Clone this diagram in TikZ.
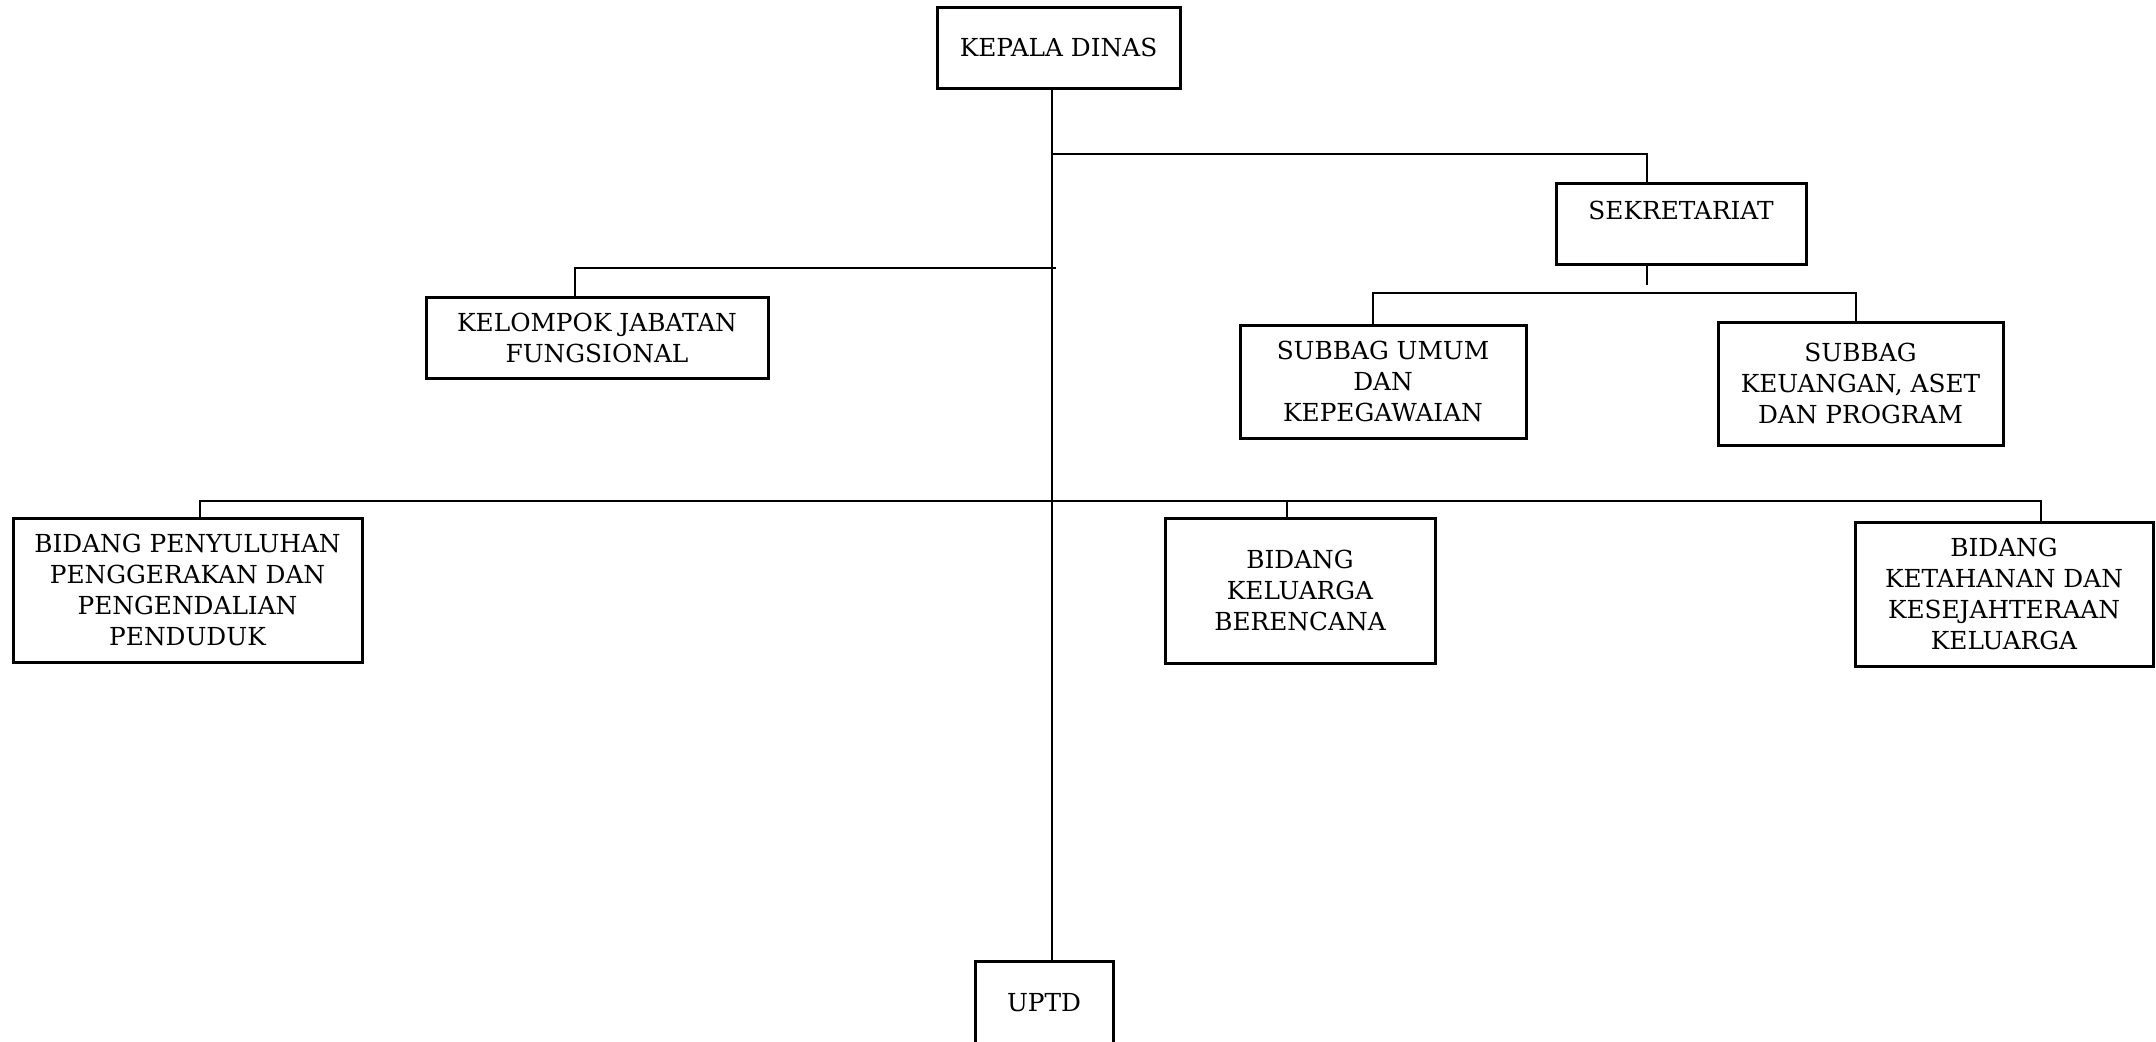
\documentclass[tikz,border=0pt]{standalone}
\usepackage{fontspec}
\setmainfont{DejaVu Serif}
\begin{document}
\begin{tikzpicture}[x=0.5pt,y=-0.5pt,
  unit/.style={draw, line width=1.5pt, align=center, inner sep=0pt,
    font=\fontsize{12.4}{15.5}\selectfont},
  link/.style={line width=0.8pt}]
\useasboundingbox (0,0) rectangle (2156,1041);

% boxes
\node[unit, minimum width=121.5pt, minimum height=40.5pt] (kepala) at (1058.5,47.5) {KEPALA DINAS};
\node[unit, minimum width=125pt, minimum height=40.5pt, text depth=13pt] (sek) at (1681,223.5) {SEKRETARIAT};
\node[unit, minimum width=171pt, minimum height=40.5pt] (kel) at (597,337.5) {KELOMPOK JABATAN\\FUNGSIONAL};
\node[unit, minimum width=143pt, minimum height=56.5pt] (umum) at (1383,381.5) {SUBBAG UMUM\\DAN\\KEPEGAWAIAN};
\node[unit, minimum width=142.5pt, minimum height=61.5pt] (keu) at (1860.5,383.5) {SUBBAG\\KEUANGAN, ASET\\DAN PROGRAM};
\node[unit, minimum width=174.5pt, minimum height=72pt] (pen) at (187.5,590) {BIDANG PENYULUHAN\\PENGGERAKAN DAN\\PENGENDALIAN\\PENDUDUK};
\node[unit, minimum width=135pt, minimum height=72.5pt] (kb) at (1300,590.5) {BIDANG\\KELUARGA\\BERENCANA};
\node[unit, minimum width=149pt, minimum height=72pt] (ket) at (2004,594) {BIDANG\\KETAHANAN DAN\\KESEJAHTERAAN\\KELUARGA};
\node[unit, minimum width=69pt, minimum height=41.5pt] (uptd) at (1044,1002.5) {UPTD};

% attachment points on the boxes
\path (kepala.south) ++(-6.5,0) coordinate (trunkTop);
\path (uptd.north) ++(8,0) coordinate (trunkBot);
\path (sek.north) ++(-34,0) coordinate (sekIn);
\path (sek.south) ++(-34,0) coordinate (sekOut);
\path (umum.north) ++(-10,0) coordinate (umumIn);
\path (keu.north) ++(-4.5,0) coordinate (keuIn);
\path (kel.north) ++(-22,0) coordinate (kelIn);
\path (pen.north) ++(12.5,0) coordinate (penIn);
\path (kb.north) ++(-13,0) coordinate (kbIn);
\path (ket.north) ++(37,0) coordinate (ketIn);

% junctions
\coordinate (jSek) at (1052,154);
\coordinate (jSub) at (1647,293);
\coordinate (sekStub) at (1647,285);
\coordinate (jKel) at (1056,268);
\coordinate (jBid) at (1052,501);

% connectors
\draw[link] (trunkTop) -- (trunkBot);
\draw[link] (jSek) -| (sekIn);
\draw[link] (sekOut) -- (sekStub);
\draw[link] (umumIn) |- (jSub) -| (keuIn);
\draw[link] (kelIn) |- (jKel);
\draw[link] (penIn) |- (jBid) -| (ketIn);
\draw[link] (kbIn) -- (kbIn |- jBid);
\end{tikzpicture}
\end{document}
